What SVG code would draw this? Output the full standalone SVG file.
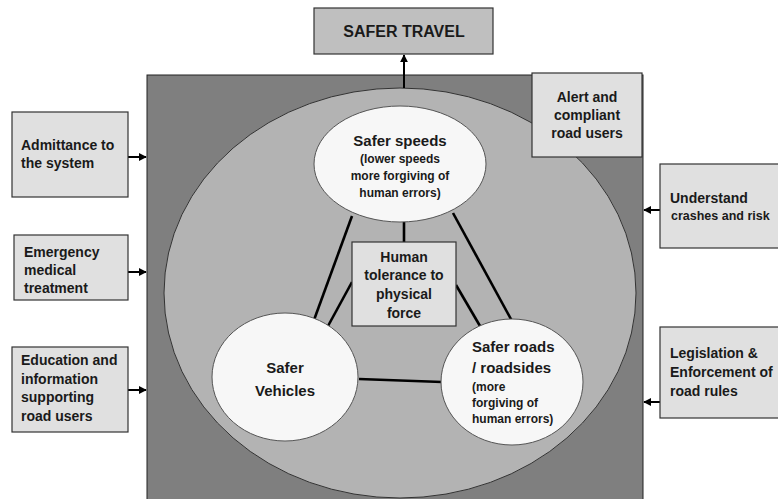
<svg xmlns="http://www.w3.org/2000/svg" width="778" height="499" viewBox="0 0 778 499">
<defs>
<marker id="ah" viewBox="0 0 10 10" refX="9" refY="5" markerWidth="4" markerHeight="4" orient="auto" markerUnits="strokeWidth">
<path d="M0,0 L10,5 L0,10 z" fill="#000"/>
</marker>
<style>
text{font-family:"Liberation Sans",Arial,sans-serif;font-weight:bold;fill:#1a1a1a}
.box{fill:#e0e0e0;stroke:#333;stroke-width:1.2}
.t14{font-size:14px}
.t15{font-size:15px}
.t12{font-size:12px}
.mid{text-anchor:middle}
.w{fill:#f7f7f7;stroke:#555;stroke-width:1}
.ln{stroke:#000;stroke-width:2.6;fill:none}
.ar{stroke:#000;stroke-width:2;fill:none;marker-end:url(#ah)}
</style>
</defs>
<rect width="778" height="499" fill="#fff"/>
<g id="background">
<rect x="147" y="75" width="496" height="430" fill="#7f7f7f" stroke="#222" stroke-width="1"/>
<ellipse cx="400" cy="293" rx="236" ry="205" fill="#b3b3b3" stroke="#333" stroke-width="1"/>
</g>
<g id="connectors">
<line class="ar" x1="404" y1="88" x2="404" y2="55"/>
<line class="ar" x1="128" y1="157" x2="146" y2="157"/>
<line class="ar" x1="128" y1="272" x2="146" y2="272"/>
<line class="ar" x1="128" y1="390" x2="146" y2="390"/>
<line class="ar" x1="660" y1="210" x2="644" y2="210"/>
<line class="ar" x1="660" y1="402" x2="644" y2="402"/>
<line class="ln" x1="352" y1="216" x2="314" y2="320"/>
<line class="ln" x1="352" y1="282" x2="328" y2="326"/>
<line class="ln" x1="404" y1="222" x2="404" y2="242"/>
<line class="ln" x1="453" y1="213" x2="512" y2="321"/>
<line class="ln" x1="456" y1="285" x2="480" y2="326"/>
<line class="ln" x1="359" y1="379" x2="442" y2="382"/>
</g>
<g id="safer-travel">
<rect x="314" y="8" width="179" height="46" fill="#bfbfbf" stroke="#333" stroke-width="1.2"/>
<text x="404" y="37" class="mid" style="font-size:16px">SAFER TRAVEL</text>
</g>
<g id="alert">
<rect class="box" x="532" y="73" width="110" height="84"/>
<text x="587" y="102" class="mid t14">Alert and</text>
<text x="587" y="120" class="mid t14">compliant</text>
<text x="587" y="138" class="mid t14">road users</text>
</g>
<g id="admittance">
<rect class="box" x="12" y="112" width="116" height="85"/>
<text x="21" y="150" class="t14">Admittance to</text>
<text x="21" y="168" class="t14">the system</text>
</g>
<g id="emergency">
<rect class="box" x="14" y="235" width="114" height="65"/>
<text x="24" y="257" class="t14">Emergency</text>
<text x="24" y="275" class="t14">medical</text>
<text x="24" y="293" class="t14">treatment</text>
</g>
<g id="education">
<rect class="box" x="12" y="347" width="116" height="85"/>
<text x="21" y="365" class="t14">Education and</text>
<text x="21" y="384" class="t14">information</text>
<text x="21" y="402" class="t14">supporting</text>
<text x="21" y="421" class="t14">road users</text>
</g>
<g id="understand">
<rect class="box" x="660" y="164" width="125" height="84"/>
<text x="670" y="203" class="t14">Understand</text>
<text x="671" y="220" style="font-size:12.5px">crashes and risk</text>
</g>
<g id="legislation">
<rect class="box" x="660" y="327" width="125" height="91"/>
<text x="670" y="358" class="t14">Legislation &amp;</text>
<text x="670" y="377" class="t14">Enforcement of</text>
<text x="670" y="396" class="t14">road rules</text>
</g>
<g id="safer-speeds">
<ellipse class="w" cx="400" cy="164" rx="86" ry="58"/>
<text x="400" y="146" class="mid t15">Safer speeds</text>
<text x="400" y="163" class="mid t12">(lower speeds</text>
<text x="400" y="180" class="mid t12">more forgiving of</text>
<text x="400" y="197" class="mid t12">human errors)</text>
</g>
<g id="human-tolerance">
<rect class="box" x="352" y="242" width="104" height="84"/>
<text x="404" y="262" class="mid t14">Human</text>
<text x="404" y="280" class="mid t14">tolerance to</text>
<text x="404" y="299" class="mid t14">physical</text>
<text x="404" y="318" class="mid t14">force</text>
</g>
<g id="safer-vehicles">
<ellipse class="w" cx="285" cy="377" rx="73" ry="64"/>
<text x="285" y="373" class="mid t15">Safer</text>
<text x="285" y="396" class="mid t15">Vehicles</text>
</g>
<g id="safer-roads">
<ellipse class="w" cx="512" cy="382" rx="71" ry="63"/>
<text x="472" y="352" class="t15">Safer roads</text>
<text x="472" y="373" class="t15">/ roadsides</text>
<text x="472" y="391" class="t12">(more</text>
<text x="472" y="407" class="t12">forgiving of</text>
<text x="472" y="423" class="t12">human errors)</text>
</g>
</svg>
